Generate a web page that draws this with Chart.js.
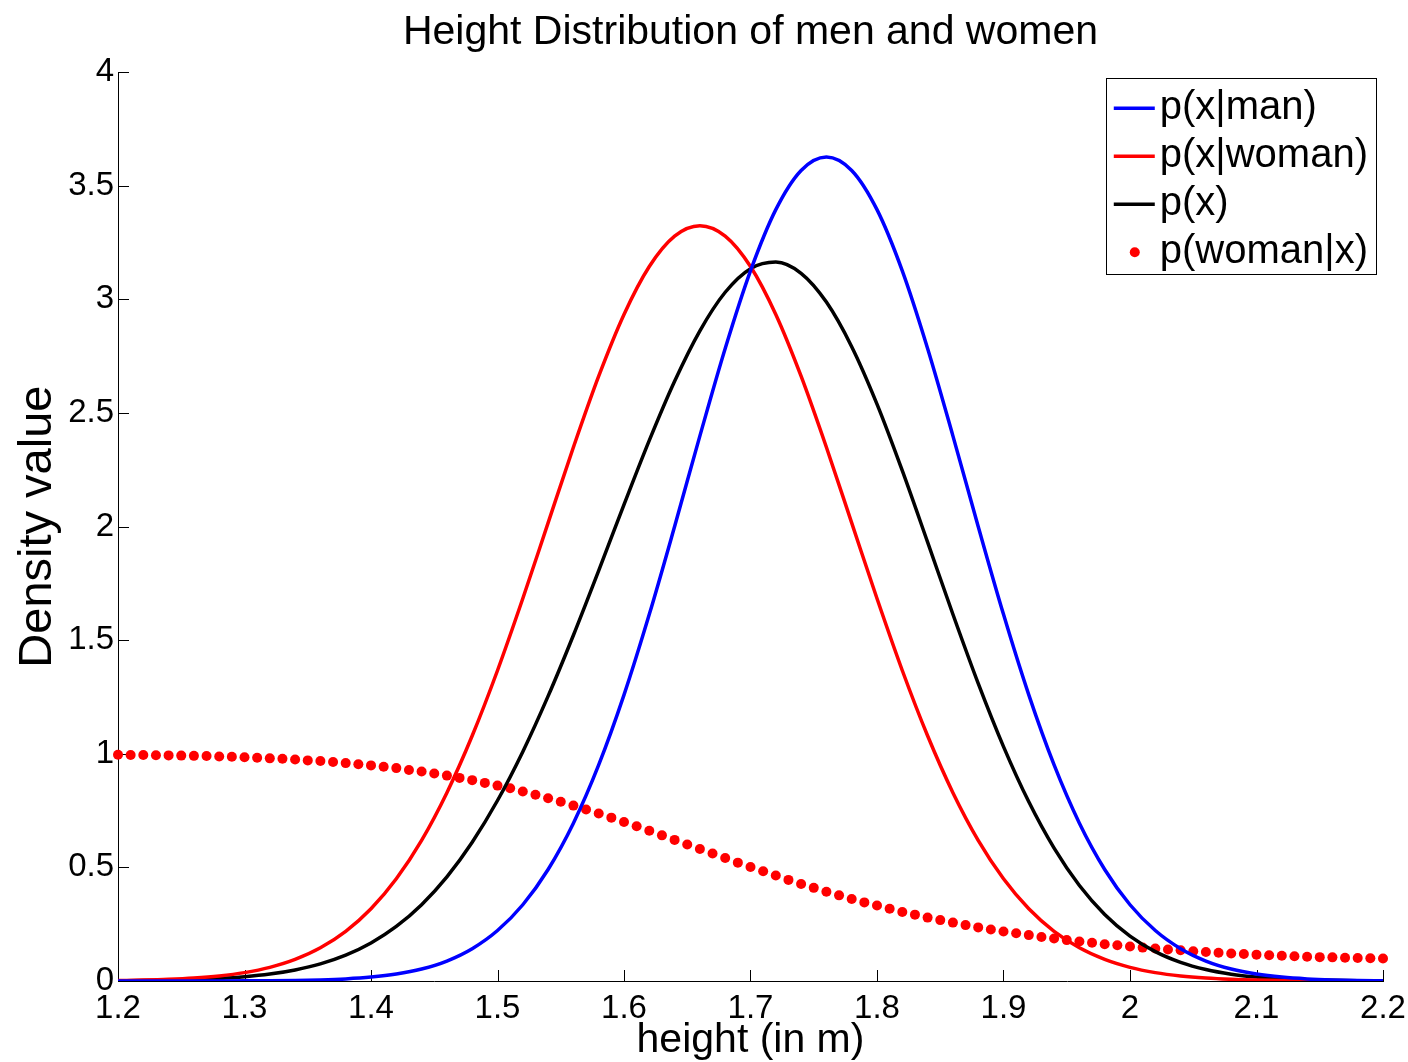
<!DOCTYPE html>
<html>
<head>
<meta charset="utf-8">
<title>Height Distribution of men and women</title>
<script src="https://cdn.jsdelivr.net/npm/chart.js@4"></script>
<style>
  html, body { margin: 0; padding: 0; background: #fff; }
  #heightChart { display: block; }
</style>
</head>
<body>
<canvas id="heightChart" width="1408" height="1062"></canvas>
<script>
// heights (m) where the curves were read, every 0.02
const curveHeights = [1.20, 1.22, 1.24, 1.26, 1.28, 1.30, 1.32, 1.34, 1.36, 1.38,
  1.40, 1.42, 1.44, 1.46, 1.48, 1.50, 1.52, 1.54, 1.56, 1.58,
  1.60, 1.62, 1.64, 1.66, 1.68, 1.70, 1.72, 1.74, 1.76, 1.78,
  1.80, 1.82, 1.84, 1.86, 1.88, 1.90, 1.92, 1.94, 1.96, 1.98,
  2.00, 2.02, 2.04, 2.06, 2.08, 2.10, 2.12, 2.14, 2.16, 2.18, 2.20];

const densityMan = [0.0000, 0.0000, 0.0001, 0.0001, 0.0003, 0.0006, 0.0012, 0.0025, 0.0049, 0.0093,
  0.0171, 0.0305, 0.0527, 0.0880, 0.1422, 0.2221, 0.3356, 0.4909, 0.6945, 0.9509,
  1.2592, 1.6137, 2.0005, 2.3993, 2.7841, 3.1256, 3.3950, 3.5676, 3.6270, 3.5676,
  3.3950, 3.1256, 2.7841, 2.3993, 2.0005, 1.6137, 1.2592, 0.9509, 0.6945, 0.4909,
  0.3356, 0.2221, 0.1422, 0.0880, 0.0527, 0.0305, 0.0171, 0.0093, 0.0049, 0.0025, 0.0012];

const densityWoman = [0.0021, 0.0040, 0.0073, 0.0129, 0.0221, 0.0369, 0.0600, 0.0950, 0.1461, 0.2185,
  0.3179, 0.4499, 0.6192, 0.8290, 1.0793, 1.3667, 1.6833, 2.0164, 2.3492, 2.6621,
  2.9339, 3.1449, 3.2787, 3.3245, 3.2787, 3.1449, 2.9339, 2.6621, 2.3492, 2.0164,
  1.6833, 1.3667, 1.0793, 0.8290, 0.6192, 0.4499, 0.3179, 0.2185, 0.1461, 0.0950,
  0.0600, 0.0369, 0.0221, 0.0129, 0.0073, 0.0040, 0.0021, 0.0011, 0.0006, 0.0003, 0.0001];

const densityAll = [0.0011, 0.0020, 0.0037, 0.0065, 0.0112, 0.0188, 0.0306, 0.0488, 0.0755, 0.1139,
  0.1675, 0.2402, 0.3360, 0.4585, 0.6108, 0.7944, 1.0095, 1.2537, 1.5219, 1.8065,
  2.0966, 2.3793, 2.6396, 2.8619, 3.0314, 3.1353, 3.1645, 3.1149, 2.9881, 2.7920,
  2.5392, 2.2462, 1.9317, 1.6142, 1.3099, 1.0318, 0.7886, 0.5847, 0.4203, 0.2930,
  0.1978, 0.1295, 0.0822, 0.0505, 0.0300, 0.0173, 0.0096, 0.0052, 0.0028, 0.0014, 0.0007];

// heights of the dotted posterior, every 0.01
const dotHeights = [1.20, 1.21, 1.22, 1.23, 1.24, 1.25, 1.26, 1.27, 1.28, 1.29,
  1.30, 1.31, 1.32, 1.33, 1.34, 1.35, 1.36, 1.37, 1.38, 1.39,
  1.40, 1.41, 1.42, 1.43, 1.44, 1.45, 1.46, 1.47, 1.48, 1.49,
  1.50, 1.51, 1.52, 1.53, 1.54, 1.55, 1.56, 1.57, 1.58, 1.59,
  1.60, 1.61, 1.62, 1.63, 1.64, 1.65, 1.66, 1.67, 1.68, 1.69,
  1.70, 1.71, 1.72, 1.73, 1.74, 1.75, 1.76, 1.77, 1.78, 1.79,
  1.80, 1.81, 1.82, 1.83, 1.84, 1.85, 1.86, 1.87, 1.88, 1.89,
  1.90, 1.91, 1.92, 1.93, 1.94, 1.95, 1.96, 1.97, 1.98, 1.99,
  2.00, 2.01, 2.02, 2.03, 2.04, 2.05, 2.06, 2.07, 2.08, 2.09,
  2.10, 2.11, 2.12, 2.13, 2.14, 2.15, 2.16, 2.17, 2.18, 2.19, 2.20];

const posteriorWoman = [0.996, 0.995, 0.995, 0.994, 0.993, 0.992, 0.991, 0.990, 0.988, 0.987,
  0.985, 0.983, 0.980, 0.978, 0.975, 0.971, 0.968, 0.964, 0.959, 0.954,
  0.949, 0.943, 0.937, 0.929, 0.922, 0.913, 0.904, 0.894, 0.884, 0.872,
  0.860, 0.848, 0.834, 0.820, 0.804, 0.789, 0.772, 0.755, 0.737, 0.719,
  0.700, 0.681, 0.661, 0.641, 0.621, 0.601, 0.581, 0.561, 0.541, 0.521,
  0.502, 0.483, 0.464, 0.445, 0.427, 0.410, 0.393, 0.377, 0.361, 0.346,
  0.332, 0.318, 0.304, 0.292, 0.279, 0.268, 0.257, 0.246, 0.236, 0.227,
  0.218, 0.210, 0.202, 0.194, 0.187, 0.180, 0.174, 0.168, 0.162, 0.157,
  0.152, 0.147, 0.143, 0.139, 0.135, 0.131, 0.128, 0.124, 0.121, 0.119,
  0.116, 0.113, 0.111, 0.109, 0.107, 0.105, 0.104, 0.102, 0.101, 0.100, 0.099];

const seriesLabels = ['p(x|man)', 'p(x|woman)', 'p(x)', 'p(woman|x)'];
const xTicks = [1.2, 1.3, 1.4, 1.5, 1.6, 1.7, 1.8, 1.9, 2, 2.1, 2.2];
const yTicks = [0, 0.5, 1, 1.5, 2, 2.5, 3, 3.5, 4];

const FONT = '"Liberation Sans", Arial, Helvetica, sans-serif';

function toPoints(xs, ys) {
    return xs.map((x, i) => ({x: x, y: ys[i]}));
}

function fmt(v) {
    return String(Number(v.toFixed(2)));
}

// MATLAB style ticks that point into the plot
const inwardTicks = {
    id: 'inwardTicks',
    beforeDatasetsDraw(chart) {
        const {ctx, chartArea, scales} = chart;
        const len = 11;
        ctx.save();
        ctx.strokeStyle = '#000';
        ctx.lineWidth = 1;
        ctx.beginPath();
        xTicks.forEach((v) => {
            const px = Math.round(scales.x.getPixelForValue(v)) + 0.5;
            ctx.moveTo(px, chartArea.bottom);
            ctx.lineTo(px, chartArea.bottom - len);
        });
        yTicks.forEach((v) => {
            const py = Math.round(scales.y.getPixelForValue(v)) + 0.5;
            ctx.moveTo(chartArea.left, py);
            ctx.lineTo(chartArea.left + len, py);
        });
        ctx.stroke();
        ctx.restore();
    }
};

// boxed legend in the top right corner of the axes
const boxLegend = {
    id: 'boxLegend',
    afterDraw(chart) {
        const {ctx, chartArea} = chart;
        const sets = chart.data.datasets;
        ctx.save();
        ctx.font = '40px ' + FONT;
        let textW = 0;
        sets.forEach((ds) => { textW = Math.max(textW, ctx.measureText(ds.label).width); });
        const rowH = 48;
        const right = chartArea.right - 7;
        const top = chartArea.top + 6;
        const width = 54 + textW + 8;
        const height = rowH * sets.length + 4;
        const left = right - width;

        ctx.fillStyle = '#fff';
        ctx.fillRect(left, top, width, height);
        ctx.strokeStyle = '#000';
        ctx.lineWidth = 1;
        ctx.strokeRect(Math.round(left) + 0.5, Math.round(top) + 0.5, Math.round(width), Math.round(height));

        sets.forEach((ds, i) => {
            const cy = top + 30 + i * rowH;
            if (ds.showLine === false) {
                ctx.beginPath();
                ctx.arc(left + 29, cy, ds.pointRadius, 0, Math.PI * 2);
                ctx.fillStyle = ds.pointBackgroundColor;
                ctx.fill();
            } else {
                ctx.beginPath();
                ctx.moveTo(left + 8, cy);
                ctx.lineTo(left + 49, cy);
                ctx.strokeStyle = ds.borderColor;
                ctx.lineWidth = ds.borderWidth;
                ctx.stroke();
            }
            ctx.fillStyle = '#000';
            ctx.textBaseline = 'middle';
            ctx.textAlign = 'left';
            ctx.fillText(ds.label, left + 54, cy);
        });
        ctx.restore();
    }
};

const ctx = document.getElementById('heightChart').getContext('2d');
Chart.defaults.color = '#000';
Chart.defaults.font.family = FONT;

new Chart(ctx, {
    type: 'scatter',
    data: {
        datasets: [
            {
                label: seriesLabels[0],
                data: toPoints(curveHeights, densityMan),
                showLine: true,
                borderColor: '#0000ff',
                backgroundColor: '#0000ff',
                borderWidth: 3.5,
                pointRadius: 0,
                cubicInterpolationMode: 'monotone'
            },
            {
                label: seriesLabels[1],
                data: toPoints(curveHeights, densityWoman),
                showLine: true,
                borderColor: '#ff0000',
                backgroundColor: '#ff0000',
                borderWidth: 3.5,
                pointRadius: 0,
                cubicInterpolationMode: 'monotone'
            },
            {
                label: seriesLabels[2],
                data: toPoints(curveHeights, densityAll),
                showLine: true,
                borderColor: '#000000',
                backgroundColor: '#000000',
                borderWidth: 3.5,
                pointRadius: 0,
                cubicInterpolationMode: 'monotone'
            },
            {
                label: seriesLabels[3],
                data: toPoints(dotHeights, posteriorWoman),
                showLine: false,
                pointRadius: 5,
                pointBorderWidth: 0,
                pointBackgroundColor: '#ff0000',
                pointBorderColor: '#ff0000',
                clip: false
            }
        ]
    },
    options: {
        responsive: false,
        animation: false,
        events: [],
        layout: {padding: {left: 10, right: 25, top: 0, bottom: 0}},
        plugins: {
            legend: {display: false},
            tooltip: {enabled: false},
            title: {
                display: true,
                text: 'Height Distribution of men and women',
                fullSize: false,
                font: {size: 41, weight: 'normal', lineHeight: 1.2},
                padding: {top: 8, bottom: 15},
                color: '#000'
            }
        },
        scales: {
            x: {
                type: 'linear',
                min: 1.2,
                max: 2.2,
                afterFit: (scale) => { scale.height = 81; },
                afterBuildTicks: (scale) => { scale.ticks = xTicks.map((v) => ({value: v})); },
                grid: {display: false},
                border: {display: true, color: '#000', width: 1},
                ticks: {
                    font: {size: 33},
                    padding: 0,
                    maxRotation: 0,
                    autoSkip: false,
                    callback: (v) => fmt(v)
                },
                title: {
                    display: true,
                    text: 'height (in m)',
                    font: {size: 41, lineHeight: 1.05},
                    padding: 0
                }
            },
            y: {
                type: 'linear',
                min: 0,
                max: 4,
                afterFit: (scale) => { scale.width = 108; },
                afterBuildTicks: (scale) => { scale.ticks = yTicks.map((v) => ({value: v})); },
                grid: {display: false},
                border: {display: true, color: '#000', width: 1},
                ticks: {
                    font: {size: 33},
                    padding: -4,
                    autoSkip: false,
                    callback: (v) => fmt(v)
                },
                title: {
                    display: true,
                    text: 'Density value',
                    font: {size: 47, lineHeight: 1.2},
                    padding: 0
                }
            }
        }
    },
    plugins: [inwardTicks, boxLegend]
});
</script>
</body>
</html>
